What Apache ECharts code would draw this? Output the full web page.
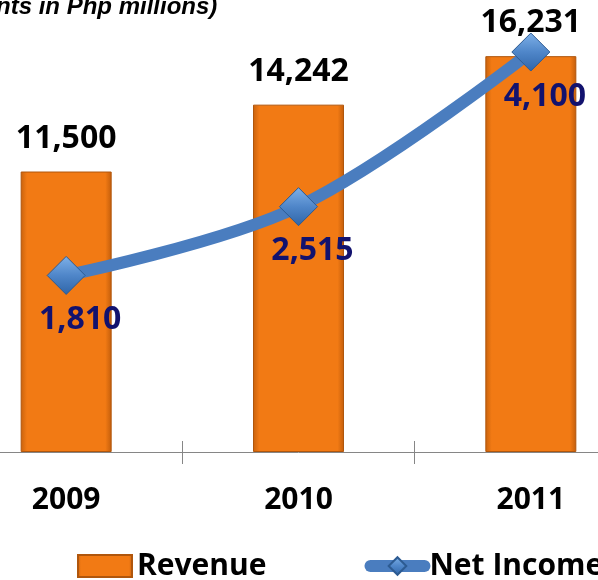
<!DOCTYPE html>
<html lang="en">
<head>
  <meta charset="UTF-8">
  <script src="https://cdn.jsdelivr.net/npm/echarts@6/dist/echarts.min.js"></script>
  <style>
    html, body { margin: 0; padding: 0; background: #fff; overflow: hidden; }
    /* the plot is wider than the window, the outer halves of the first and last bands are cut off */
    #main { width: 697px; height: 580px; margin-left: -50px; }
  </style>
</head>
<body>
  <div id="main"></div>
  <script type="text/javascript">
    // values
    const years = ['2009', '2010', '2011'];
    const revenue = [11500, 14242, 16231];
    const netIncome = [1810, 2515, 4100];
    const unitNote = '(amounts in Php millions)';

    const fmt = v => Number(v).toLocaleString('en-US');
    const axisGray = '#868686';
    const font = '"Open Sans"';

    var myChart = echarts.init(document.getElementById('main'));
    myChart.setOption({
      animation: false,
      textStyle: { fontFamily: font },
      graphic: [{
        type: 'text',
        left: -26,
        top: -5,
        style: {
          text: unitNote,
          font: 'italic bold 24px "Liberation Sans", Arial',
          fill: '#000'
        }
      }],
      legend: {
        left: 122,
        top: 546,
        itemWidth: 54,
        itemHeight: 22,
        itemGap: 98,
        textStyle: { fontSize: 30, fontWeight: 'bold', color: '#000', fontFamily: font },
        data: [
          { name: 'Revenue', icon: 'rect' },
          { name: 'Net Income', lineStyle: { width: 12, color: '#4a7dbf', cap: 'round' } }
        ]
      },
      grid: { left: 0, right: 0, top: 13, bottom: 128 },
      xAxis: [{
        type: 'category',
        data: years,
        position: 'bottom',
        axisLine: { show: true, lineStyle: { color: axisGray, width: 1 } },
        axisTick: { show: true, length: 12, lineStyle: { color: axisGray } },
        axisLabel: { margin: 33, fontSize: 30, fontWeight: 'bold', color: '#000', fontFamily: font }
      }, {
        type: 'category',
        data: years,
        position: 'bottom',
        axisLine: { show: false },
        axisTick: { show: true, inside: true, length: 11, lineStyle: { color: axisGray } },
        axisLabel: { show: false }
      }],
      yAxis: [
        { type: 'value', min: 0, max: 18000, show: false, splitLine: { show: false } },
        { type: 'value', min: 0, max: 4500, show: false, splitLine: { show: false } }
      ],
      series: [{
        name: 'Revenue',
        type: 'bar',
        data: revenue,
        barWidth: 91,
        itemStyle: {
          color: new echarts.graphic.LinearGradient(0, 0, 1, 0, [
            { offset: 0, color: '#c8620d' },
            { offset: 0.07, color: '#f27a14' },
            { offset: 0.93, color: '#f27a14' },
            { offset: 1, color: '#c25d0b' }
          ]),
          borderColor: '#b0560c',
          borderWidth: 1
        },
        label: {
          show: true,
          position: 'top',
          distance: 17,
          formatter: p => fmt(p.value),
          fontSize: 32,
          fontWeight: 'bold',
          color: '#000',
          fontFamily: font
        }
      }, {
        name: 'Net Income',
        type: 'line',
        yAxisIndex: 1,
        data: netIncome,
        smooth: 0.35,
        symbol: 'diamond',
        symbolSize: 38,
        lineStyle: { color: '#4a7dbf', width: 12, cap: 'round' },
        itemStyle: {
          color: new echarts.graphic.LinearGradient(0, 0, 0, 1, [
            { offset: 0, color: '#7fb1e8' },
            { offset: 0.5, color: '#4f86c9' },
            { offset: 1, color: '#2f65a8' }
          ]),
          borderColor: '#2d5b92',
          borderWidth: 1
        },
        label: {
          show: true,
          position: 'bottom',
          distance: 9,
          offset: [14, 0],
          formatter: p => fmt(p.value),
          fontSize: 32,
          fontWeight: 'bold',
          color: '#12126e',
          fontFamily: font
        }
      }]
    });
  </script>
</body>
</html>
